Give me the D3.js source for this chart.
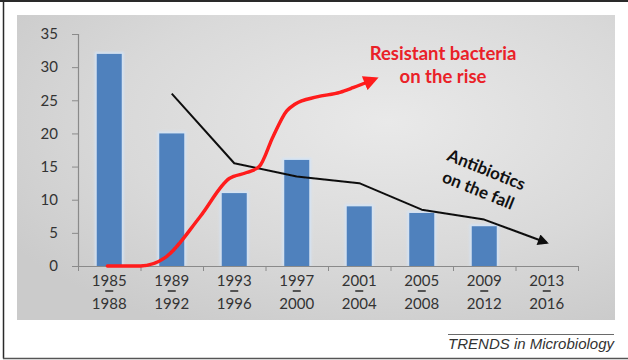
<!DOCTYPE html>
<html>
<head>
<meta charset="utf-8">
<script src="https://cdn.jsdelivr.net/npm/d3@7/dist/d3.min.js"></script>
<style>
  html, body { margin: 0; padding: 0; background: #fff; }
  svg { display: block; }
</style>
</head>
<body>
<svg id="chart" width="628" height="360"></svg>
<script>
// Four-year periods on the x axis
const periodStart = ["1985", "1989", "1993", "1997", "2001", "2005", "2009", "2013"];
const periodEnd   = ["1988", "1992", "1996", "2000", "2004", "2008", "2012", "2016"];

// New antibiotics approved per period (bars)
const approvals = [32, 20, 11, 16, 9, 8, 6, null];

// "Antibiotics on the fall" trend line, one value per period
const antibioticTrend = [null, 26, 15.5, 13.5, 12.5, 8.5, 7, 3.5];

// "Resistant bacteria on the rise" curve: position in periods (0 = first period centre) and level
const resistPos = [-0.03, 0.5, 0.9, 1.45, 1.92, 2.2, 2.4, 2.62, 2.84, 2.97, 3.32, 3.69, 3.9, 4.22];
const resistVal = [0, 0, 1.3, 7.4, 13.2, 14.1, 15, 19.5, 23.4, 24.4, 25.5, 26.2, 26.9, 28.1];

const yTicks = [0, 5, 10, 15, 20, 25, 30, 35];

const svg = d3.select("#chart");
const W = 628, H = 360;
const plot = { left: 78, right: 578, top: 34, bottom: 266 };

const defs = svg.append("defs");

// Panel background: soft gray radial shading
const grad = defs.append("radialGradient")
  .attr("id", "panelGrad").attr("cx", "62%").attr("cy", "35%").attr("r", "75%");
grad.append("stop").attr("offset", "0%").attr("stop-color", "#e9e9e9");
grad.append("stop").attr("offset", "60%").attr("stop-color", "#d9d9d9");
grad.append("stop").attr("offset", "100%").attr("stop-color", "#cbcbcb");

const soft = defs.append("filter").attr("id", "soft")
  .attr("x", "-5%").attr("y", "-5%").attr("width", "110%").attr("height", "110%");
soft.append("feGaussianBlur").attr("stdDeviation", 0.45);

const halo = defs.append("filter").attr("id", "halo")
  .attr("x", "-30%").attr("y", "-10%").attr("width", "160%").attr("height", "120%");
halo.append("feGaussianBlur").attr("stdDeviation", 1.2);

// Arrowheads
defs.append("marker")
  .attr("id", "arrowRed").attr("viewBox", "0 0 10 10")
  .attr("refX", 6).attr("refY", 5)
  .attr("markerWidth", 4.6).attr("markerHeight", 4.4)
  .attr("markerUnits", "strokeWidth").attr("orient", "auto")
  .append("path").attr("d", "M0,0 L10,5 L0,10 Z").attr("fill", "#ff1a1a");

defs.append("marker")
  .attr("id", "arrowBlack").attr("viewBox", "0 0 10 10")
  .attr("refX", 8).attr("refY", 5)
  .attr("markerWidth", 6.5).attr("markerHeight", 5.5)
  .attr("markerUnits", "strokeWidth").attr("orient", "auto")
  .append("path").attr("d", "M0,0 L10,5 L0,10 Z").attr("fill", "#111");

// Outer frame
svg.append("line").attr("x1", 0).attr("x2", W).attr("y1", 1).attr("y2", 1)
  .attr("stroke", "#2a2a2a").attr("stroke-width", 2);
svg.append("line").attr("x1", 3.5).attr("x2", 3.5).attr("y1", 0).attr("y2", 358.5)
  .attr("stroke", "#2a2a2a").attr("stroke-width", 1.5);
svg.append("line").attr("x1", 3).attr("x2", W).attr("y1", 358.5).attr("y2", 358.5)
  .attr("stroke", "#555").attr("stroke-width", 1.5);

// Chart panel
svg.append("rect")
  .attr("x", 17).attr("y", 15).attr("width", 598).attr("height", 305)
  .attr("fill", "url(#panelGrad)");

// Scales
const yScale = d3.scaleLinear().domain([0, 35]).range([plot.bottom, plot.top]);
const xBand = d3.scaleBand().domain(periodStart)
  .range([plot.left, plot.right]).paddingInner(0.6).paddingOuter(0.3);
const xLin = d3.scaleLinear().domain([0, periodStart.length]).range([plot.left, plot.right]);
const xCenter = p => xLin(p + 0.5);

const font = "Lato, 'Open Sans', sans-serif";

// Bars
const barData = periodStart.map((p, i) => ({ p, v: approvals[i] })).filter(d => d.v != null);
const bars = svg.append("g");
bars.selectAll("rect.halo").data(barData).join("rect")
  .attr("class", "halo")
  .attr("x", d => xBand(d.p) - 2)
  .attr("y", d => yScale(d.v) - 2)
  .attr("width", xBand.bandwidth() + 4)
  .attr("height", d => yScale(0) - yScale(d.v) + 2)
  .attr("fill", "#d3e3f6").attr("opacity", 0.9)
  .attr("filter", "url(#halo)");
bars.selectAll("rect.bar").data(barData).join("rect")
  .attr("class", "bar")
  .attr("x", d => xBand(d.p))
  .attr("y", d => yScale(d.v))
  .attr("width", xBand.bandwidth())
  .attr("height", d => yScale(0) - yScale(d.v))
  .attr("fill", "#4f81bd");

// Y axis
const yAxis = svg.append("g")
  .attr("transform", `translate(${plot.left},0)`)
  .call(d3.axisLeft(yScale).tickValues(yTicks).tickSize(6).tickPadding(14));
yAxis.select(".domain").attr("stroke", "#8a8a8a").attr("stroke-width", 1.2);
yAxis.selectAll(".tick line").attr("stroke", "#8a8a8a");
yAxis.selectAll(".tick text")
  .attr("fill", "#333").attr("font-family", font).attr("font-size", 15);

// X axis: tick marks at period boundaries
const xAxis = svg.append("g")
  .attr("transform", `translate(0,${plot.bottom})`)
  .call(d3.axisBottom(xLin).tickValues(d3.range(periodStart.length + 1))
    .tickSize(5).tickFormat("").tickSizeOuter(0));
xAxis.select(".domain").attr("stroke", "#8a8a8a").attr("stroke-width", 1.2);
xAxis.selectAll(".tick line").attr("stroke", "#8a8a8a");

// X labels: start year, short dash, end year
const labels = svg.append("g").attr("font-family", font).attr("fill", "#333")
  .attr("text-anchor", "middle");
periodStart.forEach((p, i) => {
  const cx = xCenter(i);
  labels.append("text").attr("x", cx).attr("y", 285.5).attr("font-size", 15).text(p);
  labels.append("line").attr("x1", cx - 4).attr("x2", cx + 4)
    .attr("y1", 291).attr("y2", 291).attr("stroke", "#333").attr("stroke-width", 1.6);
  labels.append("text").attr("x", cx).attr("y", 308.5).attr("font-size", 15).text(periodEnd[i]);
});

// Antibiotics trend line
const trendPts = antibioticTrend.map((v, i) => [i, v]).filter(d => d[1] != null);
svg.append("path")
  .datum(trendPts)
  .attr("d", d3.line().x(d => xCenter(d[0])).y(d => yScale(d[1])))
  .attr("fill", "none").attr("stroke", "#111").attr("stroke-width", 2)
  .attr("stroke-linejoin", "round")
  .attr("marker-end", "url(#arrowBlack)")
  .attr("filter", "url(#soft)");

// Resistant bacteria curve
const resistPts = resistPos.map((p, i) => [p, resistVal[i]]);
svg.append("path")
  .datum(resistPts)
  .attr("d", d3.line().x(d => xCenter(d[0])).y(d => yScale(d[1])).curve(d3.curveMonotoneX))
  .attr("fill", "none").attr("stroke", "#ff1a1a").attr("stroke-width", 3.4)
  .attr("stroke-linecap", "round").attr("stroke-linejoin", "round")
  .attr("marker-end", "url(#arrowRed)")
  .attr("filter", "url(#soft)");

// Annotations
const redNote = svg.append("g").attr("font-family", font).attr("font-weight", 700)
  .attr("font-size", 18.5).attr("fill", "#ea2128").attr("text-anchor", "middle");
redNote.append("text").attr("x", xCenter(5.34)).attr("y", yScale(31.1)).text("Resistant bacteria");
redNote.append("text").attr("x", xCenter(5.34)).attr("y", yScale(27.6)).text("on the rise");

const blackNote = svg.append("g")
  .attr("transform", `translate(${xCenter(6.0)},${yScale(13.7)}) rotate(22)`)
  .attr("font-family", font).attr("font-weight", 700).attr("font-size", 17)
  .attr("fill", "#111").attr("text-anchor", "middle");
blackNote.append("text").attr("x", 0).attr("y", 0).text("Antibiotics");
blackNote.append("text").attr("x", 0).attr("y", 22).text("on the fall");

// Journal credit
svg.append("line").attr("x1", 448).attr("x2", 614).attr("y1", 334.5).attr("y2", 334.5)
  .attr("stroke", "#6a6a6a").attr("stroke-width", 1);
svg.append("text")
  .attr("x", 614).attr("y", 348.5).attr("text-anchor", "end")
  .attr("font-family", "'Liberation Sans', Arial, sans-serif").attr("font-style", "italic")
  .attr("font-size", 15).attr("fill", "#333")
  .text("TRENDS in Microbiology");
</script>
</body>
</html>
